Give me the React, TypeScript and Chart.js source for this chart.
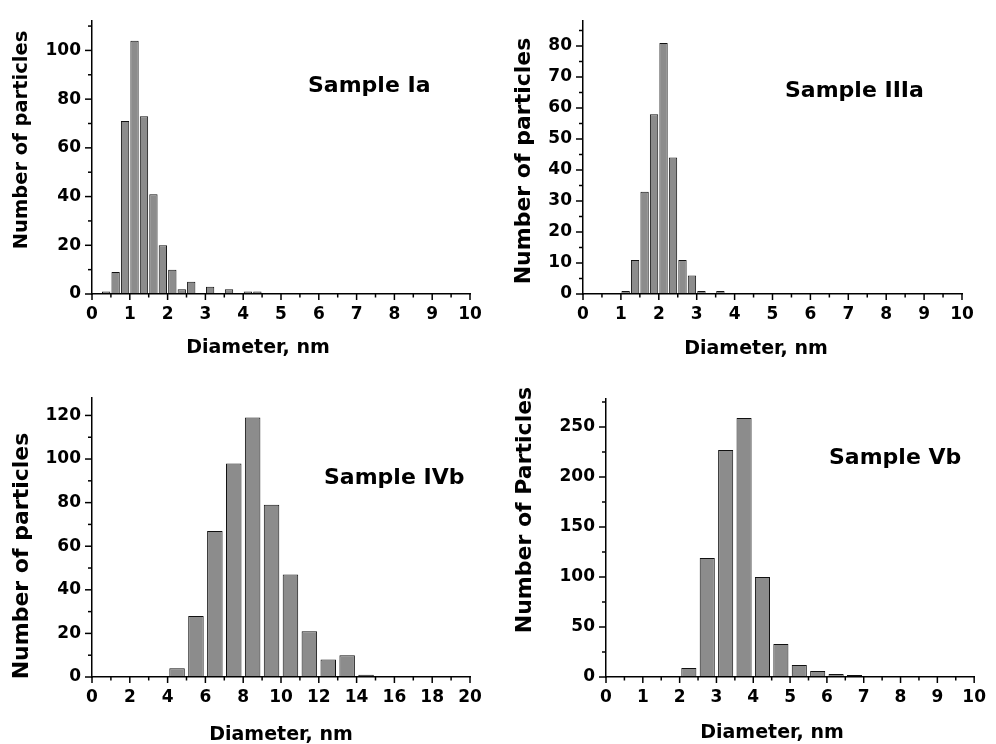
import React, { useEffect, useRef } from "react";
import { Chart, registerables } from "chart.js";

Chart.register(...registerables);

// ---------- data ----------
const IA_DIAMETERS = [0.375, 0.625, 0.875, 1.125, 1.375, 1.625, 1.875, 2.125, 2.375, 2.625, 2.875, 3.125, 3.375, 3.625, 3.875, 4.125, 4.375];
const IA_COUNTS = [1, 9, 71, 104, 73, 41, 20, 10, 2, 5, 0, 3, 0, 2, 0, 1, 1];

const IIIA_DIAMETERS = [1.125, 1.375, 1.625, 1.875, 2.125, 2.375, 2.625, 2.875, 3.125, 3.375, 3.625];
const IIIA_COUNTS = [1, 11, 33, 58, 81, 44, 11, 6, 1, 0, 1];

const IVB_DIAMETERS = [4.5, 5.5, 6.5, 7.5, 8.5, 9.5, 10.5, 11.5, 12.5, 13.5, 14.5];
const IVB_COUNTS = [4, 28, 67, 98, 119, 79, 47, 21, 8, 10, 1];

const VB_DIAMETERS = [2.25, 2.75, 3.25, 3.75, 4.25, 4.75, 5.25, 5.75, 6.25, 6.75, 7.25];
const VB_COUNTS = [9, 119, 227, 259, 100, 33, 12, 6, 3, 2, 1];

const SAMPLE_LABELS = ["Sample Ia", "Sample IIIa", "Sample IVb", "Sample Vb"];
const X_TITLE = "Diameter, nm";
const Y_TITLES = ["Number of particles", "Number of particles", "Number of particles", "Number of Particles"];

const X_MAX = [10, 10, 20, 10];
const X_STEP = [1, 1, 2, 1];
const Y_MAX = [112, 88, 128, 278];
const Y_STEP = [20, 10, 20, 50];

const SERIES = [
  { x: IA_DIAMETERS, y: IA_COUNTS },
  { x: IIIA_DIAMETERS, y: IIIA_COUNTS },
  { x: IVB_DIAMETERS, y: IVB_COUNTS },
  { x: VB_DIAMETERS, y: VB_COUNTS },
];

// ---------- layout (page coordinates) ----------
const FONT = "'DejaVu Sans'";
const PANELS = [
  { left: 0, top: 0, w: 498, h: 372, area: { l: 92, r: 470, t: 15, b: 294 }, barPct: 0.88,
    yTitle: { cx: 22, cy: 140, size: 19.5 }, xTitle: { cx: 258, base: 353 }, sample: { x: 308, base: 92 } },
  { left: 498, top: 0, w: 498, h: 372, area: { l: 583, r: 962, t: 15, b: 294 }, barPct: 0.88,
    yTitle: { cx: 524, cy: 161, size: 22 }, xTitle: { cx: 756, base: 354 }, sample: { x: 785, base: 97 } },
  { left: 0, top: 372, w: 498, h: 372, area: { l: 92, r: 470, t: 398, b: 677 }, barPct: 0.82,
    yTitle: { cx: 22, cy: 556, size: 22 }, xTitle: { cx: 281, base: 740 }, sample: { x: 324, base: 484 } },
  { left: 498, top: 372, w: 498, h: 372, area: { l: 606, r: 984, t: 399, b: 677 }, barPct: 0.82,
    yTitle: { cx: 525, cy: 510, size: 22 }, xTitle: { cx: 772, base: 738 }, sample: { x: 829, base: 464 } },
];

function Panel({ idx }: { idx: number }) {
  const ref = useRef<HTMLCanvasElement | null>(null);
  const p = PANELS[idx];
  useEffect(() => {
    if (!ref.current) return;
    const s = SERIES[idx];
    const xMax = X_MAX[idx], xStep = X_STEP[idx], yMax = Y_MAX[idx], yStep = Y_STEP[idx];
    const localL = p.area.l - p.left;
    const localR = p.area.r - p.left;
    const localT = p.area.t - p.top;
    const localB = p.area.b - p.top;

    const decor = {
      id: "decor" + idx,
      afterDraw(chart: any) {
        const ctx = chart.ctx;
        const ca = chart.chartArea;
        const xs = chart.scales.x, ys = chart.scales.y;
        ctx.save();
        ctx.strokeStyle = "#000";
        ctx.lineWidth = 1.5;
        const nx = Math.round(xMax / (xStep / 2));
        for (let i = 0; i <= nx; i++) {
          const v = (i * xStep) / 2;
          const px = xs.getPixelForValue(v);
          const major = i % 2 === 0;
          ctx.beginPath();
          ctx.moveTo(px, ca.bottom);
          ctx.lineTo(px, ca.bottom + (major ? 6 : 3.5));
          ctx.stroke();
        }
        const ny = Math.floor(yMax / (yStep / 2));
        for (let i = 0; i <= ny; i++) {
          const v = (i * yStep) / 2;
          const py = ys.getPixelForValue(v);
          const major = i % 2 === 0;
          ctx.beginPath();
          ctx.moveTo(ca.left, py);
          ctx.lineTo(ca.left - (major ? 7 : 4), py);
          ctx.stroke();
        }
        ctx.fillStyle = "#000";
        // y title
        ctx.save();
        ctx.translate(p.yTitle.cx - p.left, p.yTitle.cy - p.top);
        ctx.rotate(-Math.PI / 2);
        ctx.font = `bold ${p.yTitle.size}px ${FONT}`;
        ctx.textAlign = "center";
        ctx.textBaseline = "middle";
        ctx.fillText(Y_TITLES[idx], 0, 0);
        ctx.restore();
        // x title
        ctx.font = `bold 19px ${FONT}`;
        ctx.textAlign = "center";
        ctx.textBaseline = "alphabetic";
        ctx.fillText(X_TITLE, p.xTitle.cx - p.left, p.xTitle.base - p.top);
        // sample label
        ctx.font = `bold 22px ${FONT}`;
        ctx.textAlign = "left";
        ctx.fillText(SAMPLE_LABELS[idx], p.sample.x - p.left, p.sample.base - p.top);
        ctx.restore();
      },
    };

    const chart = new Chart(ref.current, {
      type: "bar",
      data: {
        datasets: [
          {
            data: s.x.map((d, i) => ({ x: d, y: s.y[i] })),
            backgroundColor: "#8c8c8c",
            borderColor: "#111",
            borderWidth: 1,
            categoryPercentage: 1,
            barPercentage: p.barPct,
          },
        ],
      },
      options: {
        animation: false,
        responsive: false,
        events: [],
        layout: { padding: { left: 0, top: localT, right: p.w - localR, bottom: 0 } },
        plugins: { legend: { display: false }, tooltip: { enabled: false }, title: { display: false } },
        scales: {
          x: {
            type: "linear",
            offset: false,
            min: 0,
            max: xMax,
            afterFit: (sc: any) => { sc.height = p.h - localB; },
            grid: { display: false, drawTicks: false },
            border: { display: true, color: "#000", width: 1.5, z: 2 },
            ticks: {
              stepSize: xStep,
              includeBounds: false,
              autoSkip: false,
              maxRotation: 0,
              padding: 10,
              color: "#000",
              font: { family: FONT, weight: "bold", size: 17 },
            },
          },
          y: {
            min: 0,
            max: yMax,
            afterFit: (sc: any) => { sc.width = localL; },
            grid: { display: false, drawTicks: false },
            border: { display: true, color: "#000", width: 1.5, z: 2 },
            ticks: {
              stepSize: yStep,
              includeBounds: false,
              padding: 11,
              color: "#000",
              font: { family: FONT, weight: "bold", size: 17 },
            },
          },
        },
      },
      plugins: [decor],
    } as any);
    return () => chart.destroy();
  }, [idx]);

  return (
    <div style={{ position: "absolute", left: p.left, top: p.top, width: p.w, height: p.h }}>
      <canvas ref={ref} width={p.w} height={p.h} style={{ display: "block" }} />
    </div>
  );
}

export default function App() {
  return (
    <div style={{ position: "absolute", left: 0, top: 0, width: 996, height: 744, background: "#fff", overflow: "hidden" }}>
      {PANELS.map((_, i) => (
        <Panel key={i} idx={i} />
      ))}
    </div>
  );
}
